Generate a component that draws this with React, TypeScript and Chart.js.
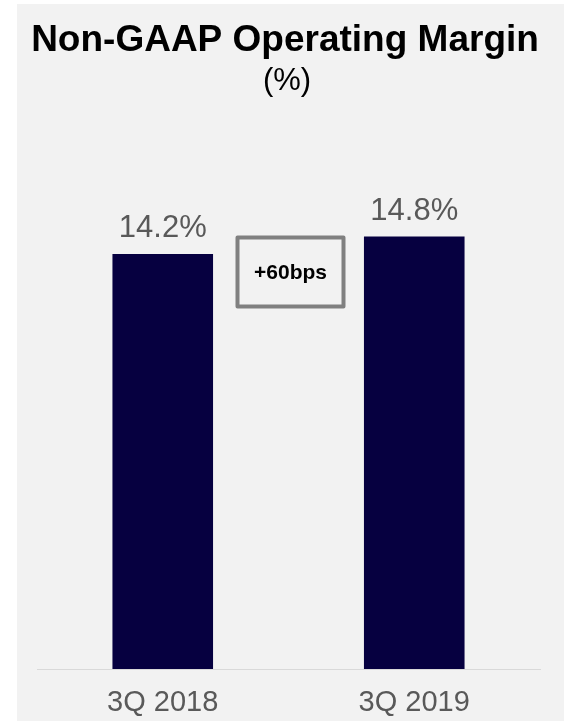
import React, { useEffect, useRef } from "react";
import { Chart, registerables } from "chart.js";

Chart.register(...registerables);

const categories = ["3Q 2018", "3Q 2019"];
const marginValues = [14.2, 14.8];
const valueLabels = ["14.2%", "14.8%"];
const changeLabel = "+60bps";
const titleText = "Non-GAAP Operating Margin";
const subtitleText = "(%)";

const FONT = "'Liberation Sans', Arial, Helvetica, sans-serif";

export default function App() {
  const ref = useRef<HTMLCanvasElement | null>(null);

  useEffect(() => {
    if (!ref.current) return;
    const overlay = {
      id: "overlay",
      afterDraw(chart: any) {
        const ctx = chart.ctx;
        ctx.save();
        // Title and subtitle
        ctx.fillStyle = "#000000";
        ctx.textAlign = "center";
        ctx.textBaseline = "alphabetic";
        ctx.font = `bold 37px ${FONT}`;
        ctx.fillText(titleText, 285, 51);
        ctx.font = `31px ${FONT}`;
        ctx.fillText(subtitleText, 287, 90);

        // Value labels above bars
        const meta = chart.getDatasetMeta(0);
        ctx.fillStyle = "#595959";
        ctx.font = `31px ${FONT}`;
        meta.data.forEach((bar: any, i: number) => {
          ctx.fillText(valueLabels[i], bar.x, bar.y - 17);
        });

        // Change box between bars
        const b1 = meta.data[0];
        const b2 = meta.data[1];
        const cx = (b1.x + b2.x) / 2 + 2;
        const top = b2.y + 1;
        const w = 106;
        const h = 69;
        const x0 = cx - w / 2;
        ctx.beginPath();
        ctx.rect(x0, top, w, h);
        ctx.fillStyle = "#f2f2f2";
        ctx.fill();
        ctx.lineWidth = 4;
        ctx.lineJoin = "round";
        ctx.strokeStyle = "#808080";
        ctx.stroke();
        ctx.fillStyle = "#000000";
        ctx.font = `bold 21px ${FONT}`;
        ctx.textBaseline = "middle";
        ctx.fillText(changeLabel, cx, top + h / 2 + 1.5);
        ctx.restore();
      },
    };

    const chart = new Chart(ref.current, {
      type: "bar",
      data: {
        labels: categories,
        datasets: [
          {
            data: marginValues,
            backgroundColor: "#060040",
            borderWidth: 0,
            barPercentage: 0.4,
            categoryPercentage: 1,
          },
        ],
      },
      options: {
        responsive: false,
        animation: false,
        layout: { padding: { top: 143, left: 37, right: 27, bottom: 0 } },
        plugins: {
          legend: { display: false },
          title: { display: false },
          tooltip: { enabled: false },
        },
        scales: {
          x: {
            grid: { display: false, drawTicks: false },
            border: { display: true, color: "#d9d9d9", width: 1 },
            ticks: {
              color: "#595959",
              padding: 17,
              font: { family: FONT, size: 29 },
            },
            afterFit: (scale: any) => {
              scale.height = 52;
            },
          },
          y: {
            display: false,
            min: 0,
            max: 18,
          },
        },
      },
      plugins: [overlay],
    });
    return () => chart.destroy();
  }, []);

  return (
    <div style={{ position: "absolute", left: 0, top: 0, width: 567, height: 721, overflow: "hidden" }}>
      <div
        style={{
          position: "absolute",
          left: 17,
          top: 4,
          width: 547,
          height: 717,
          background: "#f2f2f2",
        }}
      />
      <canvas
        ref={ref}
        width={567}
        height={721}
        style={{ position: "absolute", left: 0, top: 0, width: 567, height: 721 }}
      />
    </div>
  );
}
